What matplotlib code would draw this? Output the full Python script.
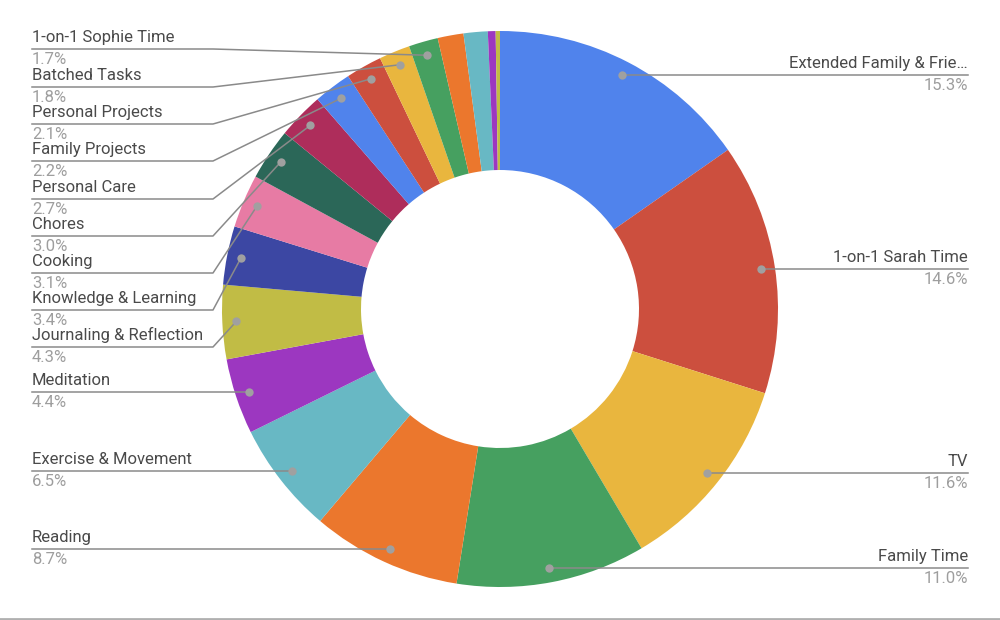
import numpy as np
import matplotlib
matplotlib.use('Agg')
import matplotlib.pyplot as plt

plt.rcParams['font.family'] = ['Roboto', 'DejaVu Sans']

# data, clockwise from 12 o'clock
categories = ['Extended Family & Frie…', '1-on-1 Sarah Time', 'TV', 'Family Time',
              'Reading', 'Exercise & Movement', 'Meditation', 'Journaling & Reflection',
              'Knowledge & Learning', 'Cooking', 'Chores', 'Personal Care',
              'Family Projects', 'Personal Projects', 'Batched Tasks', '1-on-1 Sophie Time',
              'other a', 'other b', 'other c', 'other d']
values = [15.3, 14.6, 11.6, 11.0, 8.7, 6.5, 4.4, 4.3, 3.4, 3.1, 3.0, 2.7,
          2.2, 2.1, 1.8, 1.7, 1.5, 1.4, 0.45, 0.25]
n_labeled = 16

palette = ['#5083EC', '#CC4F3E', '#E9B63E', '#46A060', '#EB772D', '#68B8C4',
           '#9C37C0', '#C1BC45', '#3C47A3', '#E77BA4', '#2B6758', '#AE2D5B']
colors = [palette[i % len(palette)] for i in range(len(values))]

# layout (pixels, y down)
CX, CY, R = 500, 309, 278
DOT_R = 264
LEFT_X, ELBOW_X, RIGHT_X = 32, 213, 968
# stacked left label line positions, top to bottom (Sophie ... Journaling)
stack_y = [49, 87, 124, 161, 199, 236, 273, 310, 347]

NAME_C = '#4a4a4a'
PCT_C = '#9e9e9e'
LINE_C = '#8a8a8a'

fig = plt.figure(figsize=(10, 6.2), dpi=100, facecolor='white')
ax = fig.add_axes([0, 0, 1, 1])

ax.pie(values, colors=colors, radius=R, center=(CX, CY), startangle=-90,
       counterclock=True, wedgeprops=dict(width=R * 0.5, edgecolor='none'))
ax.set_xlim(0, 1000)
ax.set_ylim(620, 0)
ax.set_aspect('auto')
ax.axis('off')

total = sum(values)
cum = np.cumsum([0] + values)
for i in range(n_labeled):
    mid = (cum[i] + cum[i + 1]) / 2 / total * 2 * np.pi
    dx = CX + DOT_R * np.sin(mid)
    dy = CY - DOT_R * np.cos(mid)
    name, pct = categories[i], f'{values[i]:.1f}%'
    if dx > CX:
        ly = dy
        ax.plot([dx, RIGHT_X], [ly, ly], color=LINE_C, lw=1.1, zorder=3)
        ax.text(RIGHT_X, ly - 4, name, ha='right', va='bottom', fontsize=12, color=NAME_C)
        ax.text(RIGHT_X, ly + 3, pct, ha='right', va='top', fontsize=12, color=PCT_C)
    else:
        k = n_labeled - 1 - i
        if k < len(stack_y):
            ly = stack_y[k]
            ax.plot([LEFT_X, ELBOW_X, dx], [ly, ly, dy], color=LINE_C, lw=1.1, zorder=3)
        else:
            ly = dy
            ax.plot([LEFT_X, dx], [ly, ly], color=LINE_C, lw=1.1, zorder=3)
        ax.text(LEFT_X, ly - 4, name, ha='left', va='bottom', fontsize=12, color=NAME_C)
        ax.text(LEFT_X, ly + 3, pct, ha='left', va='top', fontsize=12, color=PCT_C)
    ax.plot(dx, dy, 'o', color='#a0a0a0', markersize=6, markeredgewidth=0, zorder=4)

ax.plot([0, 1000], [618.5, 618.5], color='#b0b0b0', lw=2, clip_on=False)

fig.savefig('out.png', dpi=100, facecolor='white')
